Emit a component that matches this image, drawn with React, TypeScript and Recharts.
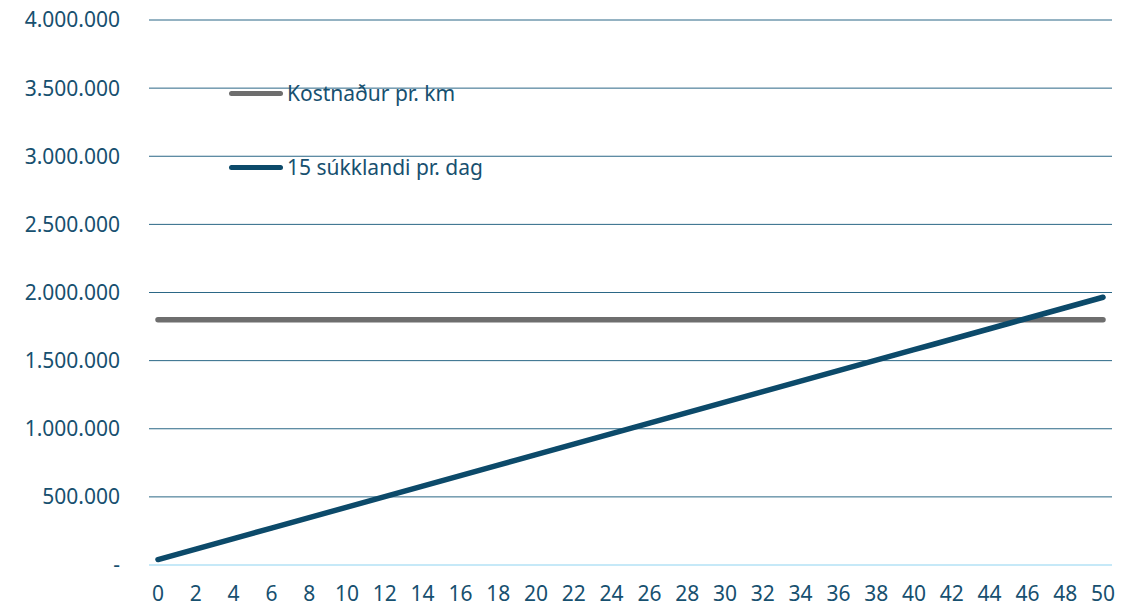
import { CartesianGrid, Line, LineChart, XAxis, YAxis } from "recharts"

// km á dag (0-50)
const days = [
  0, 1, 2, 3, 4, 5, 6, 7, 8, 9, 10, 11, 12, 13, 14, 15, 16, 17, 18, 19, 20, 21, 22, 23, 24, 25,
  26, 27, 28, 29, 30, 31, 32, 33, 34, 35, 36, 37, 38, 39, 40, 41, 42, 43, 44, 45, 46, 47, 48, 49, 50,
]

const kostnadur = [
  1800000, 1800000, 1800000, 1800000, 1800000, 1800000, 1800000, 1800000, 1800000, 1800000,
  1800000, 1800000, 1800000, 1800000, 1800000, 1800000, 1800000, 1800000, 1800000, 1800000,
  1800000, 1800000, 1800000, 1800000, 1800000, 1800000, 1800000, 1800000, 1800000, 1800000,
  1800000, 1800000, 1800000, 1800000, 1800000, 1800000, 1800000, 1800000, 1800000, 1800000,
  1800000, 1800000, 1800000, 1800000, 1800000, 1800000, 1800000, 1800000, 1800000, 1800000,
  1800000,
]

const sukklandi = [
  40000, 78500, 117000, 155500, 194000, 232500, 271000, 309500, 348000, 386500,
  425000, 463500, 502000, 540500, 579000, 617500, 656000, 694500, 733000, 771500,
  810000, 848500, 887000, 925500, 964000, 1002500, 1041000, 1079500, 1118000, 1156500,
  1195000, 1233500, 1272000, 1310500, 1349000, 1387500, 1426000, 1464500, 1503000, 1541500,
  1580000, 1618500, 1657000, 1695500, 1734000, 1772500, 1811000, 1849500, 1888000, 1926500,
  1965000,
]

const yTicks = [0, 500000, 1000000, 1500000, 2000000, 2500000, 3000000, 3500000, 4000000]

const data = days.map((d, i) => ({ day: d, kostnadur: kostnadur[i], sukklandi: sukklandi[i] }))

const TEXT = "#17506f"
const FONT = "'Noto Sans', sans-serif"

const fmt = (v: number) => (v === 0 ? "-" : String(v).replace(/\B(?=(\d{3})+(?!\d))/g, "."))

const legendItems = [
  { label: "Kostnaður pr. km", color: "#6e6e6e", top: 78 },
  { label: "15 súkklandi pr. dag", color: "#0c4a6a", top: 152 },
]

export default function App() {
  return (
    <div style={{ position: "absolute", left: 0, top: 0, width: 1143, height: 606, background: "#fff" }}>
      <LineChart width={1143} height={606} data={data} margin={{ top: 20, right: 31, left: 0, bottom: 0 }}>
        <CartesianGrid stroke="#2b6786" strokeWidth={1} vertical={false} />
        <XAxis
          dataKey="day"
          interval={1}
          padding={{ left: 9, right: 9 }}
          tickLine={false}
          axisLine={{ stroke: "#c6e9f8", strokeWidth: 2 }}
          tick={{ fill: TEXT, fontSize: 21, fontFamily: FONT }}
          tickMargin={15}
          height={41}
        />
        <YAxis
          domain={[0, 4000000]}
          ticks={yTicks}
          tickFormatter={fmt}
          axisLine={false}
          tickLine={false}
          width={149}
          tickMargin={23}
          tick={{ fill: TEXT, fontSize: 21, fontFamily: FONT }}
        />
        <Line
          dataKey="kostnadur"
          stroke="#6e6e6e"
          strokeWidth={5.5}
          strokeLinecap="round"
          dot={false}
          isAnimationActive={false}
        />
        <Line
          dataKey="sukklandi"
          stroke="#0c4a6a"
          strokeWidth={5.5}
          strokeLinecap="round"
          dot={false}
          isAnimationActive={false}
        />
      </LineChart>
      {/* legend sits inside the plot, top left */}
      {legendItems.map((it) => (
        <div
          key={it.label}
          style={{
            position: "absolute",
            left: 229,
            top: it.top,
            height: 30,
            display: "flex",
            alignItems: "center",
            fontFamily: FONT,
            fontSize: 21,
            color: TEXT,
            whiteSpace: "nowrap",
          }}
        >
          <div style={{ width: 54, height: 5, borderRadius: 3, background: it.color, marginRight: 4 }} />
          <span>{it.label}</span>
        </div>
      ))}
    </div>
  )
}
